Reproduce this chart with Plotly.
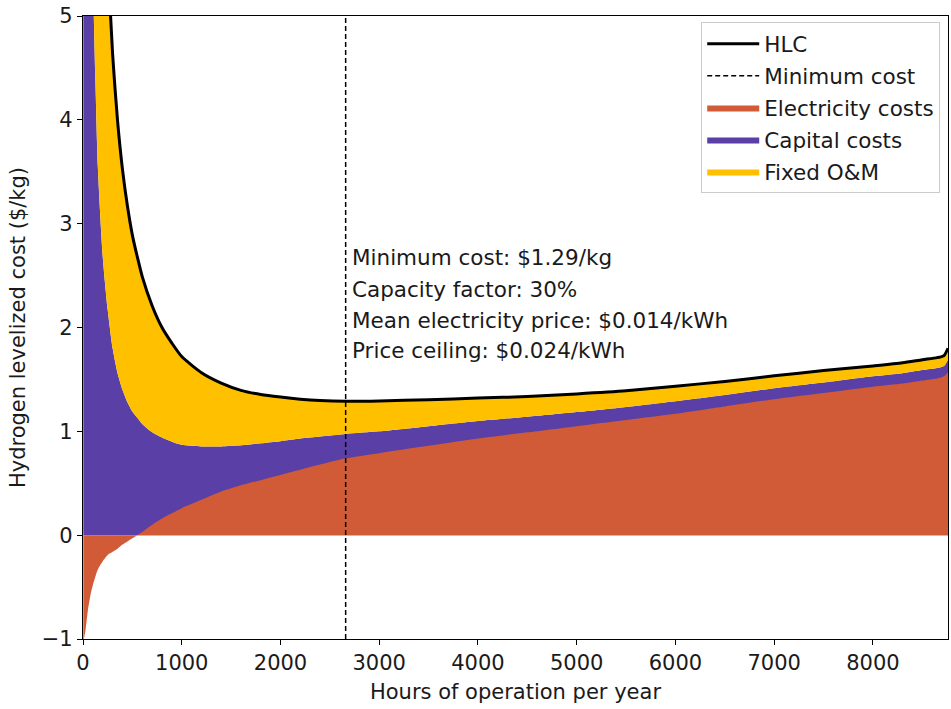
import plotly.graph_objects as go

# ---- data ----
hours = [3, 10, 25, 50, 75, 100, 125, 150, 200, 250, 300, 350, 400, 450, 500, 550, 600,
         700, 800, 900, 1000, 1200, 1400, 1600, 1800, 2000, 2200, 2400, 2660, 3000,
         3500, 4000, 4500, 5000, 5500, 6000, 6500, 7000, 7500, 8000, 8300, 8500,
         8650, 8720, 8760]

electricity = [-1.3, -1.0, -0.92, -0.72, -0.58, -0.48, -0.40, -0.33, -0.25, -0.19, -0.16,
               -0.13, -0.09, -0.06, -0.03, 0.0, 0.03, 0.10, 0.16, 0.21, 0.26, 0.34, 0.42,
               0.48, 0.53, 0.58, 0.63, 0.68, 0.74, 0.79, 0.86, 0.93, 0.99, 1.05, 1.11,
               1.17, 1.24, 1.31, 1.37, 1.43, 1.46, 1.49, 1.51, 1.53, 1.57]

capital = [100.0, 31.0, 15.9, 10.72, 7.58, 5.88, 4.80, 3.88, 2.93, 2.36, 1.96, 1.69, 1.49,
           1.34, 1.22, 1.13, 1.04, 0.89, 0.78, 0.69, 0.61, 0.515, 0.435, 0.385, 0.355,
           0.325, 0.30, 0.27, 0.235, 0.21, 0.19, 0.17, 0.15, 0.135, 0.125, 0.12, 0.11,
           0.105, 0.10, 0.10, 0.10, 0.10, 0.10, 0.10, 0.12]

fixed_om = [280.0, 85.0, 34.0, 17.0, 11.3, 8.5, 6.8, 5.7, 4.25, 3.4, 2.83, 2.43, 2.12,
            1.89, 1.70, 1.55, 1.42, 1.22, 1.06, 0.95, 0.85, 0.71, 0.61, 0.53, 0.47,
            0.425, 0.38, 0.347, 0.315, 0.293, 0.255, 0.22, 0.195, 0.175, 0.155, 0.145,
            0.13, 0.12, 0.115, 0.10, 0.10, 0.10, 0.10, 0.10, 0.11]

min_hours = 2660
y_range = [-1, 5]
x_range = [0, 8760]
x_ticks = [0, 1000, 2000, 3000, 4000, 5000, 6000, 7000, 8000]
y_ticks = [-1, 0, 1, 2, 3, 4, 5]
info_lines = ["Minimum cost: $1.29/kg", "Capacity factor: 30%",
              "Mean electricity price: $0.014/kWh", "Price ceiling: $0.024/kWh"]
info_y = [2.67, 2.37, 2.07, 1.78]

# ---- derived stacks ----
cap_top = [e + c for e, c in zip(electricity, capital)]
hlc = [e + c + o for e, c, o in zip(electricity, capital, fixed_om)]

RED = "#d05b36"
PURPLE = "#5a3fa6"
YELLOW = "#ffc000"
FONT = "DejaVu Sans"
FS = 21
TXT = "#1a1a1a"
SM = 0.6

fig = go.Figure()
fig.add_trace(go.Scatter(x=hours, y=cap_top, mode="lines", fill="tozeroy",
                         fillcolor=PURPLE,
                         line=dict(width=0, color=PURPLE, shape="spline", smoothing=SM),
                         name="Capital costs", legendrank=4, legendgroup="c",
                         hoverinfo="skip"))
fig.add_trace(go.Scatter(x=hours, y=hlc, mode="lines", fill="tonexty",
                         fillcolor=YELLOW,
                         line=dict(width=0, color=YELLOW, shape="spline", smoothing=SM),
                         name="Fixed O&M", legendrank=5, legendgroup="o",
                         hoverinfo="skip"))
fig.add_trace(go.Scatter(x=hours, y=electricity, mode="lines", fill="tozeroy",
                         fillcolor=RED,
                         line=dict(width=0, color=RED, shape="spline", smoothing=SM),
                         name="Electricity costs", legendrank=3, legendgroup="e",
                         hoverinfo="skip"))
fig.add_trace(go.Scatter(x=hours, y=hlc, mode="lines",
                         line=dict(width=3, color="black", shape="spline", smoothing=SM),
                         name="HLC", legendrank=1, legendgroup="h"))
fig.add_trace(go.Scatter(x=[min_hours, min_hours], y=y_range, mode="lines",
                         line=dict(width=1.5, color="black", dash="5px,3px"),
                         name="Minimum cost", legendrank=2, legendgroup="m"))

for txt, yy in zip(info_lines, info_y):
    fig.add_annotation(x=min_hours, y=yy, xref="x", yref="y", text=txt,
                       showarrow=False, xanchor="left", yanchor="middle",
                       xshift=4, font=dict(family=FONT, size=FS + 0.5, color=TXT))

axis_common = dict(showline=True, mirror=True, linecolor="black", linewidth=1.2,
                   ticks="outside", ticklen=5, tickwidth=1.2, tickcolor="black",
                   showgrid=False, zeroline=False, automargin=False,
                   tickfont=dict(family=FONT, size=FS, color=TXT))

fig.update_xaxes(range=x_range, tickvals=x_ticks,
                 title=dict(text="Hours of operation per year", standoff=10,
                            font=dict(family=FONT, size=FS, color=TXT)),
                 **axis_common)
fig.update_yaxes(range=y_range, tickvals=y_ticks,
                 title=dict(text="Hydrogen levelized cost ($/kg)", standoff=10,
                            font=dict(family=FONT, size=FS, color=TXT)),
                 **axis_common)

fig.update_layout(
    width=951, height=709,
    margin=dict(l=83, r=3, t=16, b=70),
    plot_bgcolor="white", paper_bgcolor="white",
    font=dict(family=FONT, size=FS, color=TXT),
    legend=dict(x=0.991, y=0.99, xanchor="right", yanchor="top",
                bgcolor="white", bordercolor="#cccccc", borderwidth=1,
                font=dict(family=FONT, size=FS + 0.5, color=TXT),
                traceorder="grouped", tracegroupgap=1, itemwidth=52),
    showlegend=True,
)

fig.write_html("out.html", config={"displayModeBar": False},
               post_script="document.body.style.margin='0';document.body.style.overflow='hidden';")
